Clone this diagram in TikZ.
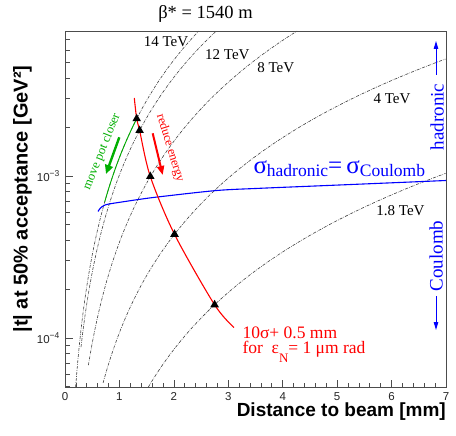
\documentclass[tikz,border=0pt]{standalone}
\usepackage{fontspec}
\setmainfont{Liberation Serif}
\setsansfont{Liberation Sans}
\usetikzlibrary{shapes.geometric,arrows.meta}
\definecolor{rootgreen}{RGB}{0,175,0}
\begin{document}
\begin{tikzpicture}[x=1pt,y=-1pt,
  declare function={px(\d)=65+54.43*\d; py(\l)=176-162*(\l+3);},
  energy/.style={black!75, line width=0.6pt, dash pattern=on 3pt off 1.2pt on 0.6pt off 1.2pt},
  elabel/.style={font=\fontsize{15}{15}\selectfont, anchor=base, inner sep=0},
  marker/.style={regular polygon, regular polygon sides=3, fill=black, inner sep=0, minimum size=10pt},
  ticklab/.style={font=\sffamily\fontsize{11.5}{11.5}\selectfont, text=black!85, anchor=base, inner sep=0},
  bluearrow/.style={blue, line width=0.9pt, -{Triangle[length=8pt,width=4.5pt]}},
  axtitle/.style={font=\sffamily\bfseries\fontsize{20}{20}\selectfont, inner sep=0}]
\useasboundingbox (0,0) rectangle (456,436);

% energy curves, log t = A + B log d
\draw[energy] plot[domain=-4.3025:-2.1049, samples=90, variable=\l] ({px(10^((\l+2.886)/2))},{py(\l)});
\draw[energy] plot[domain=-4.056:-2.1049, samples=90, variable=\l] ({px(10^((\l+2.993)/2))},{py(\l)});
\draw[energy] plot[domain=-4.168:-2.1049, samples=90, variable=\l] ({px(10^((\l+3.409)/2.07))},{py(\l)});
\draw[energy] plot[domain=-4.277:-2.2768, samples=90, variable=\l] ({px(10^((\l+3.967)/2))},{py(\l)});
\draw[energy] plot[domain=-4.3025:-2.9828, samples=90, variable=\l] ({px(10^((\l+4.673)/2))},{py(\l)});

% energy labels
\node[elabel] (e14) at (166,46.7) {14 TeV};
\node[elabel] (e12) at (227.3,59.3) {12 TeV};
\node[elabel] (e8) at (275.7,72.7) {8 TeV};
\node[elabel] (e4) at (392,103.3) {4 TeV};
\node[elabel] (e18) at (400.5,215) {1.8 TeV};

% green segment along 14 TeV curve
\draw[rootgreen, line width=0.9pt] plot[domain=-3.159:-2.6466, samples=30, variable=\l] ({px(10^((\l+2.886)/2))},{py(\l)});

% blue sigma_had = sigma_coul curve
\draw[blue, line width=1.1pt] plot[smooth, tension=0.5] coordinates {(98,211.5) (100.5,208) (104,205.5) (109,204) (125,201.5) (142,199) (160,196.7) (216.7,190.5) (260,188.3) (320,185.8) (380,183.3) (446,180.5)};

% red curve through marker points
\coordinate (p14) at (136.7,118.75);
\coordinate (p12) at (139.6,130.5);
\coordinate (p8) at (150.3,176.5);
\coordinate (p4) at (174.5,234.3);
\coordinate (p18) at (214.6,304.8);
\coordinate (rtop) at (134.3,98);
\coordinate (rend) at (234,327.5);
\draw[red, line width=1.1pt] plot[smooth, tension=0.5] coordinates {(rtop) (p14) (p12) (p8) (p4) (p18) (rend)};

\node[marker] (m14) at (p14) {};
\node[marker] (m12) at (p12) {};
\node[marker] (m8) at (p8) {};
\node[marker] (m4) at (p4) {};
\node[marker] (m18) at (p18) {};

% arrows and rotated texts
\coordinate (gA) at (119.3,137.3);
\coordinate (gB) at (106,174);
\draw[rootgreen, line width=2.4pt, -{Triangle[length=9pt,width=8pt]}] (gA) -- (gB);
\node[rotate=68, text=rootgreen, font=\fontsize{12.7}{12.7}\selectfont, inner sep=0] (movetxt) at (102,151.7) {move pot closer};

\coordinate (rA) at (152.7,133.3);
\coordinate (rB) at (162.7,175);
\draw[red, line width=2pt, -{Triangle[length=9pt,width=7pt]}] (rA) -- (rB);
\node[rotate=-73, text=red, font=\fontsize{12.5}{12.5}\selectfont, inner sep=0] (redtxt) at (170,148) {reduce energy};

\node[anchor=base west, inner sep=0, text=blue] (sigtxt) at (253.3,174) {\fontsize{25}{25}\selectfont σ\raisebox{-2pt}{\fontsize{17.5}{17.5}\selectfont hadronic}=\,σ\raisebox{-2pt}{\fontsize{17.5}{17.5}\selectfont Coulomb}};

\node[rotate=90, text=blue, font=\fontsize{19}{19}\selectfont, inner sep=0] (hadtxt) at (437,117) {hadronic};
\coordinate (hA) at (436,75);
\coordinate (hB) at (436,41);
\draw[bluearrow] (hA) -- (hB);
\node[rotate=90, text=blue, font=\fontsize{19}{19}\selectfont, inner sep=0] (coutxt) at (436,256) {Coulomb};
\coordinate (cA) at (436,296);
\coordinate (cB) at (436,330);
\draw[bluearrow] (cA) -- (cB);

\node[anchor=base west, inner sep=0, text=red, font=\fontsize{17.5}{17.5}\selectfont] (rl1) at (242.3,338.5) {10σ+ 0.5 mm};
\node[anchor=base west, inner sep=0, text=red, font=\fontsize{17.5}{17.5}\selectfont] (rl2) at (242.3,353.3) {for\ \ ε\raisebox{-9pt}{\fontsize{13}{13}\selectfont N}= 1 μm rad};

% title
\node[anchor=base, inner sep=0, font=\fontsize{18.5}{18.5}\selectfont] (title) at (205.5,18.3) {β* = 1540 m};

% frame and ticks
\draw[black!70, line width=0.9pt] (65,31) rectangle (446,387);
\foreach \i in {0,...,35} \draw[black!70, line width=0.7pt] ({px(\i*0.2)},387) -- ++(0,-4);
\foreach \i in {0,...,7} {
  \draw[black!70, line width=0.7pt] ({px(\i)},387) -- ++(0,-7);
  \node[ticklab] (xl\i) at ({px(\i)},400.7) {\i};
}
\foreach \m in {5,...,9} \draw[black!70, line width=0.7pt] (65,{py(log10(\m)-5)}) -- ++(4.5,0);
\foreach \m in {2,...,9} \draw[black!70, line width=0.7pt] (65,{py(log10(\m)-4)}) -- ++(4.5,0);
\foreach \m in {2,...,7} \draw[black!70, line width=0.7pt] (65,{py(log10(\m)-3)}) -- ++(4.5,0);
\draw[black!70, line width=0.7pt] (65,{py(-4)}) -- ++(8,0);
\draw[black!70, line width=0.7pt] (65,{py(-3)}) -- ++(8,0);

\node[ticklab, anchor=base west] (yl3) at (36.7,181.5) {10\raisebox{5pt}{\fontsize{8.5}{8.5}\selectfont −3}};
\node[ticklab, anchor=base west] (yl4) at (36.7,343.5) {10\raisebox{5pt}{\fontsize{8.5}{8.5}\selectfont −4}};

% axis titles
\node[axtitle, anchor=base east, font=\sffamily\bfseries\fontsize{19}{19}\selectfont] (xtitle) at (446,416.7) {Distance to beam [mm]};
\node[axtitle, rotate=90] (ytitle) at (22.5,199) {|t| at 50\% acceptance [GeV²]};
\end{tikzpicture}
\end{document}
